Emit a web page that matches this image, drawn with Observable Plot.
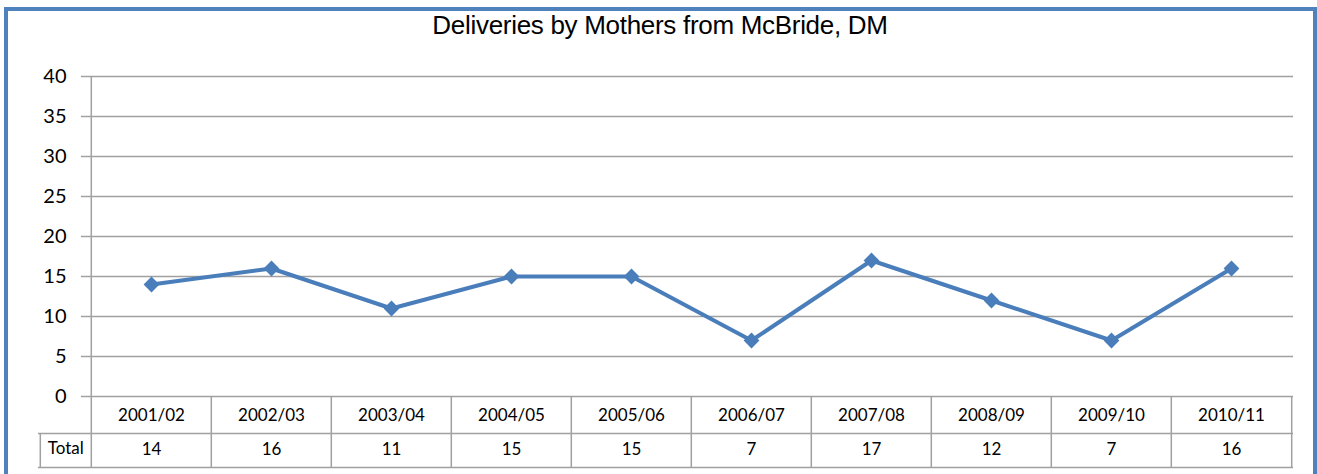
<!DOCTYPE html>
<html>
<head>
<meta charset="utf-8">
<script src="https://cdn.jsdelivr.net/npm/d3@7"></script>
<script src="https://cdn.jsdelivr.net/npm/@observablehq/plot@0.6"></script>
<style>
  body { margin: 0; background: #fff; }
  #wrap { position: relative; width: 1317px; height: 474px; overflow: hidden; background: #fff; }
  #frame { position: absolute; left: 4px; top: 7px; width: 1313px; height: 520px; box-sizing: border-box; border: 4px solid #4F81BD; pointer-events: none; }
  #title { position: absolute; left: 0; width: 1320px; top: 12px; text-align: center; font-family: "Liberation Sans", Arial, sans-serif; font-size: 26px; line-height: 26px; color: #000; letter-spacing: -0.3px; }
  #chart { position: absolute; left: 0; top: 0; }
</style>
</head>
<body>
<div id="wrap">
  <div id="chart"></div>
  <div id="title"></div>
  <div id="frame"></div>
</div>
<script>
const titleText = "Deliveries by Mothers from McBride, DM";
const periods = ["2001/02", "2002/03", "2003/04", "2004/05", "2005/06", "2006/07", "2007/08", "2008/09", "2009/10", "2010/11"];
const totals = [14, 16, 11, 15, 15, 7, 17, 12, 7, 16];
const rowLabel = "Total";
const yTicks = [0, 5, 10, 15, 20, 25, 30, 35, 40];

const data = periods.map((p, i) => ({period: p, total: totals[i]}));

const W = 1317, H = 474, ML = 89, MR = 24, MT = 76, MB = 78;
const bw = (W - ML - MR) / periods.length;
const row1 = 37, row2 = 71, labelW = 51;
const grid = "#a0a0a0";
const blue = "#4A7EBB";

document.getElementById("title").textContent = titleText;

const chart = Plot.plot({
  width: W,
  height: H,
  marginLeft: ML,
  marginRight: MR,
  marginTop: MT,
  marginBottom: MB,
  style: {background: "none", fontFamily: "Lato, 'Liberation Sans', sans-serif", color: "#000"},
  x: {type: "band", domain: periods, padding: 0, axis: null},
  y: {domain: [0, 40], ticks: yTicks, label: null},
  marks: [
    Plot.gridY(yTicks, {stroke: grid, strokeOpacity: 1, strokeWidth: 1.5}),
    Plot.axisY(yTicks, {tickSize: 8, tickPadding: 15, stroke: grid, strokeWidth: 1.5, fontSize: 20, fill: "#000", label: null}),
    // left axis line
    Plot.ruleX([periods[0]], {x: d => d, dx: -bw / 2, y1: 0, y2: 40, stroke: grid, strokeWidth: 1.5}),
    // table column separators
    Plot.ruleX(periods, {x: d => d, dx: -bw / 2, y1: 0, y2: 0, insetBottom: -row2, stroke: grid, strokeWidth: 1.5}),
    Plot.ruleX([periods[periods.length - 1]], {x: d => d, dx: bw / 2, y1: 0, y2: 0, insetBottom: -row2, stroke: grid, strokeWidth: 1.5}),
    Plot.ruleX([periods[0]], {x: d => d, dx: -bw / 2 - labelW, y1: 0, y2: 0, insetTop: row1, insetBottom: -row2, stroke: grid, strokeWidth: 1.5}),
    // table row lines
    Plot.ruleY([0], {dy: row1, insetLeft: -labelW, stroke: grid, strokeWidth: 1.5}),
    Plot.ruleY([0], {dy: row2, insetLeft: -labelW, stroke: grid, strokeWidth: 1.5}),
    // table text
    Plot.text(periods, {x: d => d, y: 0, dy: 19, fontSize: 17, fill: "#000"}),
    Plot.text(data, {x: "period", y: 0, dy: 53, text: d => String(d.total), fontSize: 17, fill: "#000"}),
    Plot.text([rowLabel], {x: () => periods[0], y: 0, dx: -bw / 2 - labelW / 2, dy: 52, fontSize: 17, fill: "#000"}),
    // series
    Plot.line(data, {x: "period", y: "total", stroke: blue, strokeWidth: 4}),
    Plot.dot(data, {x: "period", y: "total", symbol: "square", r: 6.3, rotate: 45, fill: blue, stroke: "none"})
  ]
});
document.getElementById("chart").appendChild(chart);
</script>
</body>
</html>
